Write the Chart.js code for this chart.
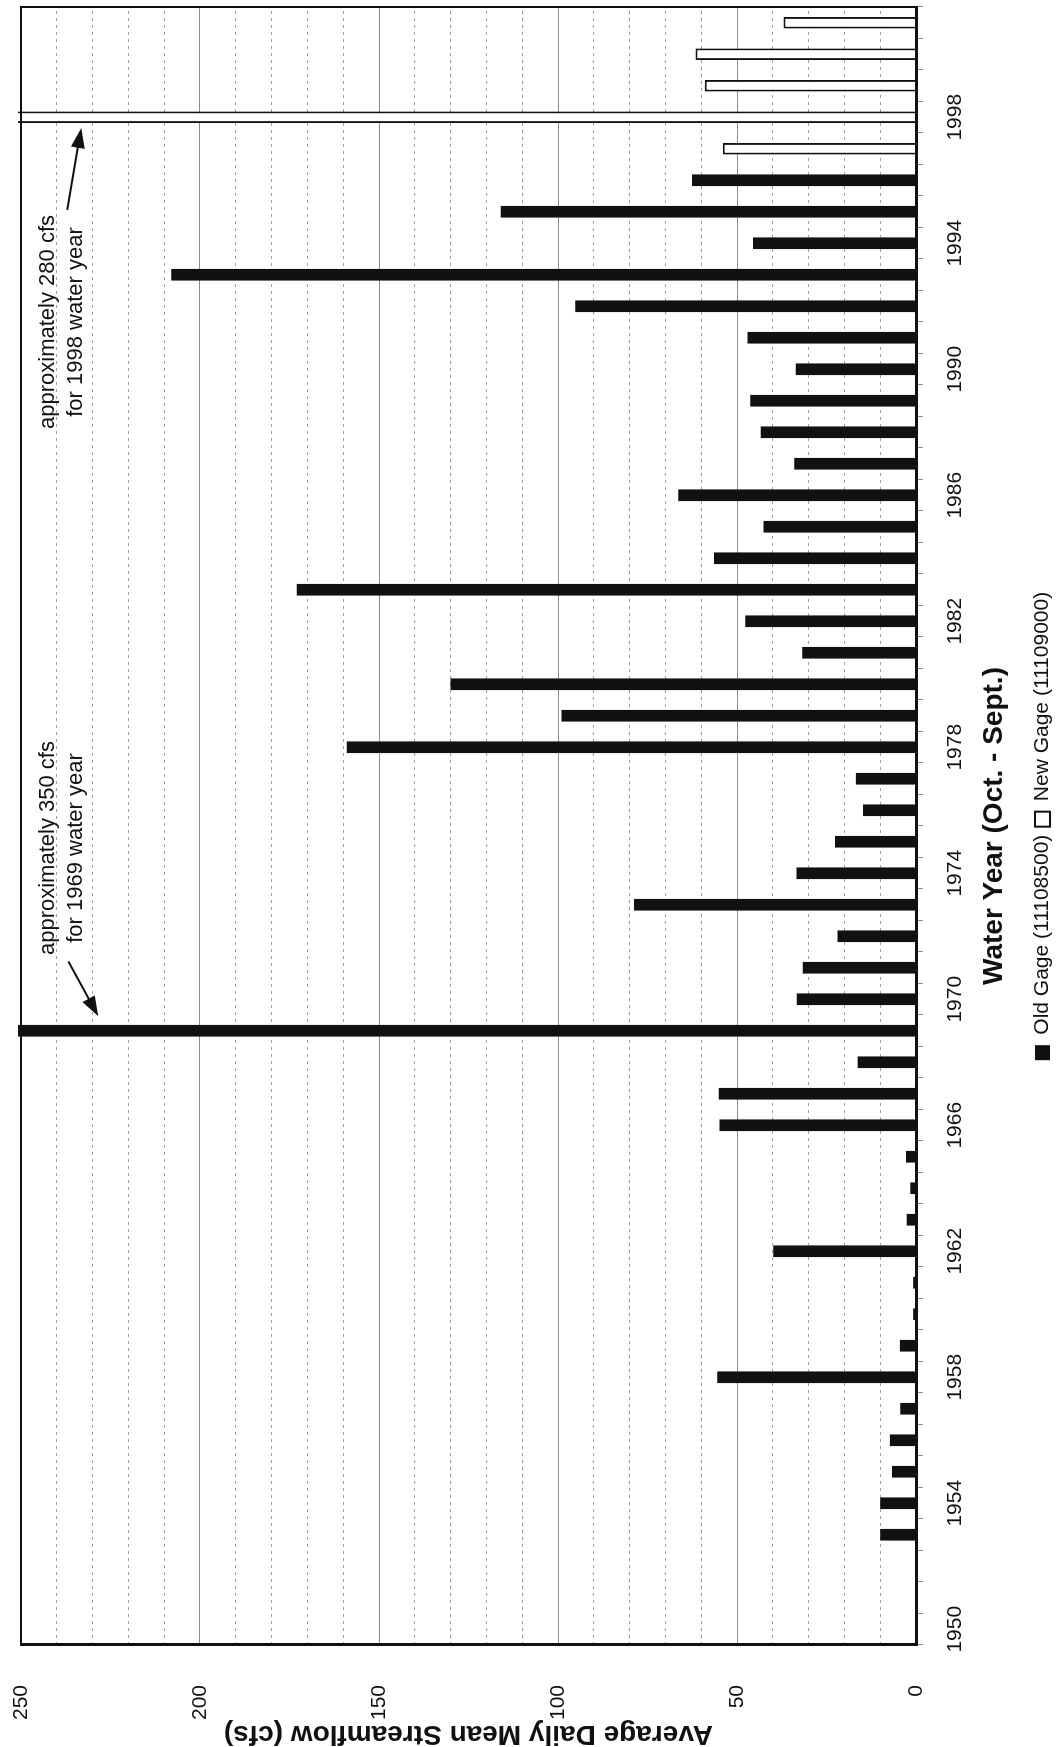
<!DOCTYPE html>
<html>
<head>
<meta charset="utf-8">
<script src="https://cdn.jsdelivr.net/npm/chart.js@4.4.0/dist/chart.umd.min.js"></script>
<style>
  html, body { margin: 0; padding: 0; background: #fff; overflow: hidden; }
  body { width: 1063px; height: 1747px; position: relative; }
  /* the chart is drawn landscape and turned a quarter turn to the left, like the scanned page */
  #wrap { position: absolute; left: 0; top: 0; width: 1747px; height: 1063px;
          transform-origin: 0 0; transform: translateY(1747px) rotate(-90deg); }
</style>
</head>
<body>
<div id="wrap"><canvas id="chart" width="1747" height="1063"></canvas></div>
<script>
const years = [1950, 1951, 1952, 1953, 1954, 1955, 1956, 1957, 1958, 1959,
               1960, 1961, 1962, 1963, 1964, 1965, 1966, 1967, 1968, 1969,
               1970, 1971, 1972, 1973, 1974, 1975, 1976, 1977, 1978, 1979,
               1980, 1981, 1982, 1983, 1984, 1985, 1986, 1987, 1988, 1989,
               1990, 1991, 1992, 1993, 1994, 1995, 1996, 1997, 1998, 1999,
               2000, 2001];

// old gage (11108500), cfs
const oldGage = [null, null, null, 10, 10, 6.7, 7.3, 4.4, 55.5, 4.5,
                 0.8, 0.8, 39.9, 2.6, 1.6, 2.8, 54.9, 55.1, 16.3, 350,
                 33.3, 31.6, 21.9, 78.8, 33.4, 22.6, 14.8, 16.8, 159, 99,
                 130, 31.8, 47.7, 173, 56.4, 42.6, 66.4, 34, 43.4, 46.3,
                 33.6, 47.1, 95.2, 208, 45.5, 116, 62.6, null, null, null,
                 null, null];

// new gage (11109000), cfs
const newGage = [null, null, null, null, null, null, null, null, null, null,
                 null, null, null, null, null, null, null, null, null, null,
                 null, null, null, null, null, null, null, null, null, null,
                 null, null, null, null, null, null, null, null, null, null,
                 null, null, null, null, null, null, null, 54, 280, 59,
                 61.6, 37];

const seriesNames = ['Old Gage (11108500)', 'New Gage (11109000)'];
const yTicks = [0, 50, 100, 150, 200, 250];
const noteLines = [
    ['approximately 350 cfs', 'for 1969 water year'],
    ['approximately 280 cfs', 'for 1998 water year']
];

Chart.defaults.font.family = '"Liberation Sans", Arial, Helvetica, sans-serif';
Chart.defaults.color = '#111';

const drawArrow = (ctx, x1, y1, x2, y2) => {
    let ang = Math.atan2(y2 - y1, x2 - x1);
    let len = 20, half = 7;
    ctx.beginPath();
    ctx.moveTo(x1, y1);
    ctx.lineTo(x2 - len * 0.7 * Math.cos(ang), y2 - len * 0.7 * Math.sin(ang));
    ctx.stroke();
    ctx.beginPath();
    ctx.moveTo(x2, y2);
    ctx.lineTo(x2 - len * Math.cos(ang) + half * Math.sin(ang), y2 - len * Math.sin(ang) - half * Math.cos(ang));
    ctx.lineTo(x2 - len * Math.cos(ang) - half * Math.sin(ang), y2 - len * Math.sin(ang) + half * Math.cos(ang));
    ctx.closePath();
    ctx.fill();
}

// frame round the plot plus the two notes with arrows
const notesPlugin = {
    id: 'notes',
    afterDatasetsDraw(chart, args, opts) {
        let ctx = chart.ctx;
        let area = chart.chartArea;
        let x = chart.scales.x, y = chart.scales.y;
        ctx.save();
        ctx.strokeStyle = '#111';
        ctx.lineWidth = 2;
        ctx.strokeRect(area.left, area.top, area.right - area.left, area.bottom - area.top);

        ctx.fillStyle = '#111';
        ctx.font = '22px "Liberation Sans", Arial, sans-serif';
        ctx.textAlign = 'center';
        ctx.textBaseline = 'middle';
        opts.items.forEach((n, k) => {
            noteLines[k].forEach((t, i) => {
                ctx.fillText(t, x.getPixelForValue(n.at), y.getPixelForValue(n.rows[i]));
            });
            ctx.lineWidth = 2;
            drawArrow(ctx,
                x.getPixelForValue(n.from[0]), y.getPixelForValue(n.from[1]),
                x.getPixelForValue(n.to[0]), y.getPixelForValue(n.to[1]));
        });
        ctx.restore();
    }
};

// fixed axis sizes so the plot sits where it does on the page
const fixSize = (w, h) => s => {
    if (w !== null) s.width = w;
    if (h !== null) s.height = h;
    s.paddingTop = 0; s.paddingBottom = 0;
    s.paddingLeft = 0; s.paddingRight = 0;
}

const config = {
    type: 'bar',
    data: {
        labels: years,
        datasets: [{
            label: seriesNames[0],
            data: oldGage,
            backgroundColor: '#111',
            borderColor: '#111',
            borderWidth: 0
        }, {
            label: seriesNames[1],
            data: newGage,
            backgroundColor: '#fff',
            borderColor: '#111',
            borderWidth: 2
        }]
    },
    options: {
        responsive: false,
        animation: false,
        devicePixelRatio: 1,
        layout: { padding: { left: 0, right: 7, top: 21, bottom: 0 } },
        datasets: {
            bar: { grouped: false, barPercentage: 0.37, categoryPercentage: 1, clip: 3 }
        },
        plugins: {
            tooltip: { enabled: false },
            legend: {
                position: 'bottom',
                fullSize: false,
                labels: { boxWidth: 15, boxHeight: 15, padding: 8, color: '#111', font: { size: 21 } }
            },
            notes: {
                items: [
                    { at: 24.8, rows: [242.4, 234.6], from: [21.2, 236.8], to: [19.46, 228.4] },
                    { at: 41.5, rows: [242.4, 234.6], from: [45.06, 237.1], to: [47.66, 233.2] }
                ]
            }
        },
        scales: {
            x: {
                offset: true,
                afterFit: fixSize(null, 108),
                grid: { display: true, drawOnChartArea: false, drawTicks: true, tickLength: 7, color: '#888', tickColor: '#888', offset: true },
                border: { display: true, color: '#111', width: 3 },
                ticks: {
                    autoSkip: false, maxRotation: 0, minRotation: 0, padding: 20,
                    font: { size: 21 },
                    callback: (v, i) => (years[i] - years[0]) % 4 === 0 ? String(years[i]) : ''
                },
                title: {
                    display: true, text: 'Water Year (Oct. - Sept.)',
                    font: { size: 28, weight: 'bold' }, padding: { top: 0, bottom: 13 }
                }
            },
            y: {
                min: yTicks[0],
                max: yTicks[yTicks.length - 1],
                afterFit: fixSize(102, null),
                ticks: { stepSize: 50, padding: 40, font: { size: 21 } },
                grid: { color: '#8c8c8c', lineWidth: 1, drawTicks: false },
                border: { display: true, color: '#111', width: 3 },
                title: {
                    display: true, text: 'Average Daily Mean Streamflow (cfs)',
                    font: { size: 28, weight: 'bold' }, padding: { top: -4, bottom: 0 }
                }
            },
            yMinor: {
                position: 'right',
                min: yTicks[0],
                max: yTicks[yTicks.length - 1],
                afterFit: fixSize(0, null),
                ticks: { display: false, stepSize: 10 },
                grid: {
                    color: c => c.tick.value % 50 === 0 ? 'rgba(0,0,0,0)' : '#a0a0a0',
                    lineWidth: 1, drawTicks: false, borderDash: [3, 4]
                },
                border: { display: false, dash: [3, 4] }
            }
        }
    },
    plugins: [notesPlugin]
};

const chart = new Chart(document.getElementById('chart'), config);
</script>
</body>
</html>
